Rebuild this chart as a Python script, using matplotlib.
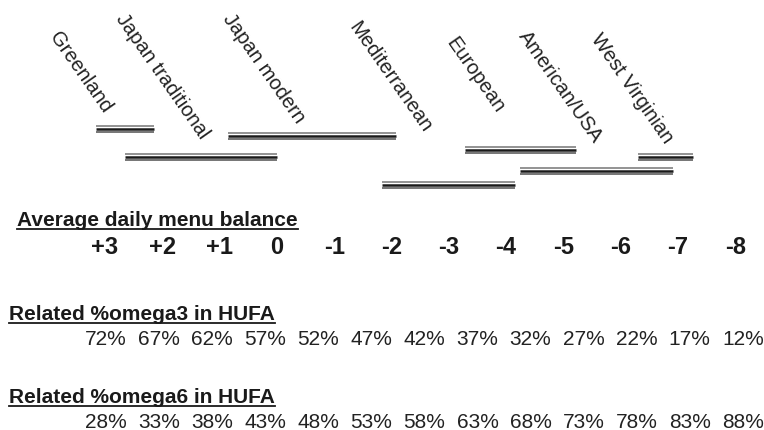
import numpy as np
import matplotlib
matplotlib.use('Agg')
import matplotlib.pyplot as plt
from matplotlib.lines import Line2D

plt.rcParams['font.family'] = ['Liberation Sans', 'DejaVu Sans']

# Diets and their range on the menu-balance scale
diets = ['Greenland', 'Japan traditional', 'Japan modern', 'Mediterranean',
         'European', 'American/USA', 'West Virginian']
bar_start = [3.15, 2.65, 0.85, -1.83, -3.28, -4.24, -6.30]
bar_end = [2.15, 0.0, -2.08, -4.15, -5.22, -6.91, -7.26]
bar_row = [130, 158, 137, 186, 151, 172, 158]      # vertical level (px from top)
label_x = [3.03, 1.34, -0.33, -2.55, -3.82, -5.52, -6.77]
label_row = [114, 140, 124, 134, 114, 144, 145]

balance = [3, 2, 1, 0, -1, -2, -3, -4, -5, -6, -7, -8]
omega3 = [72, 67, 62, 57, 52, 47, 42, 37, 32, 27, 22, 17, 12]
omega6 = [28, 33, 38, 43, 48, 53, 58, 63, 68, 73, 78, 83, 88]

W, H = 764, 431
fig = plt.figure(figsize=(W / 100, H / 100), dpi=100)
ax = fig.add_axes([0, 0, 1, 1])
ax.set_xlim(4.832, -8.50)
ax.set_ylim(H, 0)
ax.axis('off')

# triple-line bars
for s, e, r in zip(bar_start, bar_end, bar_row):
    ax.hlines(r - 2.6, s, e, color='#8a8a8a', lw=1.3)
    ax.hlines(r, s, e, color='#1a1a1a', lw=1.8)
    ax.hlines(r + 2.6, s, e, color='#6a6a6a', lw=1.3)

for name, lx, ly in zip(diets, label_x, label_row):
    ax.text(lx, ly, name, rotation=-55, rotation_mode='anchor',
            ha='right', va='baseline', fontsize=14.5, color='#222222')

def title(x_px, base_px, txt):
    t = fig.text(x_px / W, 1 - base_px / H, txt, fontsize=15, fontweight='bold',
                 ha='left', va='baseline', color='#1a1a1a')
    fig.canvas.draw()
    bb = t.get_window_extent(fig.canvas.get_renderer())
    yu = 1 - (base_px + 3.5) / H
    fig.add_artist(Line2D([bb.x0 / W, bb.x1 / W], [yu, yu], color='#1a1a1a',
                          lw=1.3, transform=fig.transFigure))

title(17, 226, 'Average daily menu balance')
for v in balance:
    ax.text(v, 247.5, f'{v:+d}' if v != 0 else '0', ha='center', va='center',
            fontsize=17, fontweight='bold', color='#1a1a1a')

pos = np.linspace(2.98, -8.13, len(omega3))
title(9, 320, 'Related %omega3 in HUFA')
for p, v in zip(pos, omega3):
    ax.text(p, 340, f'{v}%', ha='center', va='center', fontsize=15, color='#222222')

title(9, 403, 'Related %omega6 in HUFA')
for p, v in zip(pos, omega6):
    ax.text(p, 423, f'{v}%', ha='center', va='center', fontsize=15, color='#222222')

fig.savefig('out.png', dpi=100)
